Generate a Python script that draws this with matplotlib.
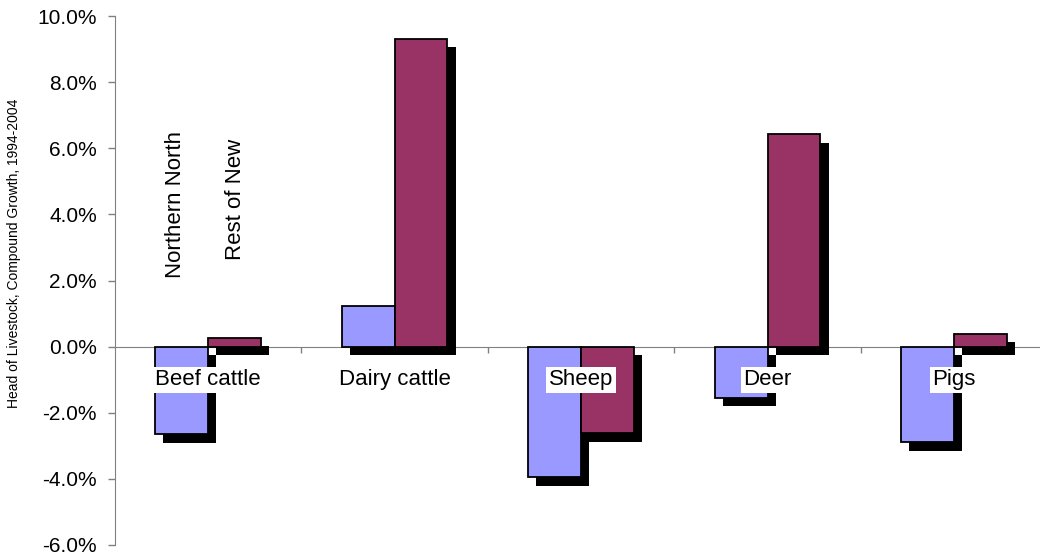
import matplotlib
matplotlib.use('Agg')
import matplotlib.pyplot as plt
import matplotlib.patheffects as pe
from matplotlib.ticker import PercentFormatter
import numpy as np

# Livestock compound growth 1994-2004, in %
categories = ['Beef cattle', 'Dairy cattle', 'Sheep', 'Deer', 'Pigs']
northern_north = [-2.65, 1.23, -3.95, -1.54, -2.89]
rest_of_new = [0.26, 9.3, -2.62, 6.42, 0.39]
series_names = ['Northern North', 'Rest of New']

plt.rcParams['font.family'] = ['Liberation Sans', 'DejaVu Sans']
plt.rcParams['axes.unicode_minus'] = False

fig = plt.figure(figsize=(10.4, 5.57), dpi=100)
ax = fig.add_axes([115/1040, 12/557, 1 - 115/1040, (545-16)/557])

x = np.arange(len(categories))
w = 0.284
shadow = [pe.SimplePatchShadow(offset=(6, -6), shadow_rgbFace='black', alpha=1.0), pe.Normal()]

ax.bar(x - w/2, northern_north, w, color='#9999FF', edgecolor='black',
       linewidth=1.3, zorder=2, path_effects=shadow)
ax.bar(x + w/2, rest_of_new, w, color='#993366', edgecolor='black',
       linewidth=1.3, zorder=2, path_effects=shadow)

# category names sit just under the zero line, on white
for xi, name in zip(x, categories):
    ax.text(xi, -1.0, name, ha='center', va='center', fontsize=16, zorder=5,
            bbox=dict(facecolor='white', edgecolor='none', pad=2))

# series names written vertically above the first group
ax.text(-0.172, 4.3, series_names[0], rotation=90, ha='center', va='center', fontsize=16)
ax.text(0.145, 4.46, series_names[1], rotation=90, ha='center', va='center', fontsize=16)

ax.set_ylim(-6, 10)
ax.set_xlim(-0.4987, 4.461)
ax.set_yticks(np.arange(-6, 10.1, 2))
ax.yaxis.set_major_formatter(PercentFormatter(xmax=100, decimals=1))
ax.tick_params(axis='y', labelsize=15, length=5, width=1, color='#808080', pad=8)

ax.spines['top'].set_visible(False)
ax.spines['right'].set_visible(False)
ax.spines['left'].set_color('#808080')
ax.spines['bottom'].set_position(('data', 0))
ax.spines['bottom'].set_color('#808080')
ax.spines['bottom'].set_zorder(1)
ax.set_xticks(x[:-1] + 0.5)
ax.set_xticklabels([])
ax.tick_params(axis='x', length=4, width=1, color='#808080')

fig.text(14/1040, 1 - 253/557, 'Head of Livestock, Compound Growth, 1994-2004',
         rotation=90, ha='center', va='center', fontsize=10)

fig.savefig('out.png', dpi=100)
